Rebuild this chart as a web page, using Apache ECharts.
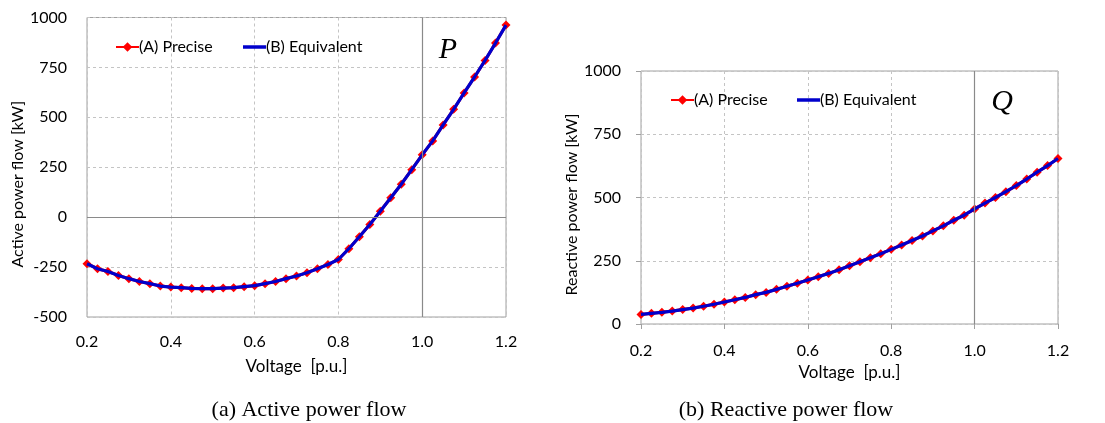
<!DOCTYPE html>
<html>
<head>
<meta charset="utf-8">
<script src="https://cdn.jsdelivr.net/npm/echarts@6/dist/echarts.min.js"></script>
<style>
html,body{margin:0;padding:0;background:#fff;}
#c{width:1105px;height:423px;}
</style>
</head>
<body>
<div id="c"></div>
<script>
// Voltage [p.u.] sample points
const voltage = [0.2,0.225,0.25,0.275,0.3,0.325,0.35,0.375,0.4,0.425,0.45,0.475,0.5,0.525,0.55,0.575,0.6,0.625,0.65,0.675,0.7,0.725,0.75,0.775,0.8,0.825,0.85,0.875,0.9,0.925,0.95,0.975,1.0,1.025,1.05,1.075,1.1,1.125,1.15,1.175,1.2];

// Active power flow [kW]
const activePrecise = [-233,-258,-272,-292,-308,-322,-333,-345,-350,-353,-357,-358,-358,-355,-353,-348,-343,-333,-322,-308,-295,-278,-258,-237,-212,-158,-98,-37,30,97,165,238,312,382,462,540,622,702,785,872,962];
const activeEquivalent = [-233,-258,-272,-292,-308,-322,-333,-345,-350,-353,-357,-358,-358,-355,-353,-348,-343,-333,-322,-308,-295,-278,-258,-237,-212,-158,-98,-37,30,97,165,238,312,382,462,540,622,702,785,872,962];

// Reactive power flow [kW]
const reactivePrecise = [38,42,46,51,57,63,70,78,87,96,105,116,125,137,149,161,174,187,200,214,230,246,262,278,295,312,330,348,368,388,410,430,455,478,500,523,547,573,600,626,654];
const reactiveEquivalent = [38,42,46,51,57,63,70,78,87,96,105,116,125,137,149,161,174,187,200,214,230,246,262,278,295,312,330,348,368,388,410,430,455,478,500,523,547,573,600,626,654];

const xTicks = ['0.2','0.4','0.6','0.8','1.0','1.2'];
const activeTicks = ['-500','-250','0','250','500','750','1000'];
const reactiveTicks = ['0','250','500','750','1000'];
const seriesNames = ['(A) Precise','(B) Equivalent'];

const pairs = (xs, ys) => xs.map((x, i) => [x, ys[i]]);

const FONT = 'Lato';
const gridLine = {show:true, lineStyle:{color:'#c4c4c4', type:[3,3], width:1}};

function xAxis(gridIndex, nameGap, labelMargin, ticks) {
  return {
    type:'value', gridIndex, min:0.2, max:1.2, interval:0.2,
    axisLine:{show:false},
    axisTick:{show:ticks, length:5, lineStyle:{color:'#a0a0a0'}},
    axisLabel:{margin:labelMargin, color:'#000', fontFamily:FONT, fontSize:16,
      formatter:v => { const s = v.toFixed(1); return xTicks.includes(s) ? s : ''; }},
    splitLine:gridLine,
    name:'Voltage  [p.u.]', nameLocation:'middle', nameGap,
    nameTextStyle:{color:'#000', fontFamily:FONT, fontSize:17}
  };
}
function yAxis(gridIndex, min, ticksArr, name, nameGap, ticks, shift) {
  return {
    type:'value', gridIndex, min, max:1000, interval:250,
    axisLine:{show:false},
    axisTick:{show:ticks, length:5, lineStyle:{color:'#a0a0a0'}},
    axisLabel:{margin:20, color:'#000', fontFamily:FONT, fontSize:16,
      formatter:v => { const s = String(v); return ticksArr.includes(s) ? s : ''; }},
    splitLine:gridLine,
    name, nameLocation:'middle', nameGap,
    nameTextStyle:{color:'#000', fontFamily:FONT, fontSize:16, padding:[0, shift, 0, 0]}
  };
}
function seriesA(idx, data, mark) {
  return {
    name:seriesNames[0], type:'line', xAxisIndex:idx, yAxisIndex:idx,
    data, symbol:'diamond', symbolSize:9, showSymbol:true,
    itemStyle:{color:'#ff0000'}, lineStyle:{color:'#ff0000', width:3},
    z:2, animation:false,
    markLine:{silent:true, symbol:'none', label:{show:false}, animation:false,
      lineStyle:{color:'#8a8a8a', type:'solid', width:1.2}, data:mark}
  };
}
function seriesB(idx, data) {
  return {
    name:seriesNames[1], type:'line', xAxisIndex:idx, yAxisIndex:idx,
    data, symbol:'none', showSymbol:false,
    itemStyle:{color:'#0000cc'}, lineStyle:{color:'#0000cc', width:3.2},
    z:3, animation:false
  };
}
function legendA(left, top) {
  return {
    data:[seriesNames[0]], left, top, itemWidth:23, itemHeight:12, itemGap:0,
    selectedMode:false,
    textStyle:{color:'#000', fontFamily:FONT, fontSize:16, padding:[0,0,0,-5]}
  };
}
function legendB(left, top) {
  return {
    data:[{name:seriesNames[1], icon:'rect'}], left, top, itemWidth:23, itemHeight:3.5, itemGap:0,
    selectedMode:false,
    textStyle:{color:'#000', fontFamily:FONT, fontSize:16, padding:[0,0,0,-5]}
  };
}

const chart = echarts.init(document.getElementById('c'), null, {renderer:'canvas'});
chart.setOption({
  animation:false,
  backgroundColor:'#fff',
  grid:[
    {left:87, right:599, top:17.5, bottom:106, show:true, borderColor:'#a0a0a0', borderWidth:1, backgroundColor:'transparent'},
    {left:641, right:47, top:71, bottom:99, show:true, borderColor:'#a0a0a0', borderWidth:1, backgroundColor:'transparent'}
  ],
  xAxis:[ xAxis(0, 41, 17, false), xAxis(1, 34, 19, true) ],
  yAxis:[
    yAxis(0, -500, activeTicks, 'Active power flow [kW]', 58, false, 34),
    yAxis(1, 0, reactiveTicks, 'Reactive power flow [kW]', 56, true, 14)
  ],
  legend:[
    legendA(110, 34),
    legendB(238, 34),
    legendA(665, 87),
    legendB(792, 87)
  ],
  series:[
    seriesA(0, pairs(voltage, activePrecise), [{xAxis:1.0}, {yAxis:0}]),
    seriesB(0, pairs(voltage, activeEquivalent)),
    seriesA(1, pairs(voltage, reactivePrecise), [{xAxis:1.0}]),
    seriesB(1, pairs(voltage, reactiveEquivalent))
  ],
  graphic:[
    {type:'text', x:448, y:50, style:{text:'P', font:'italic 30px "Liberation Serif"', fill:'#000', align:'center', verticalAlign:'middle'}},
    {type:'text', x:1002, y:102, style:{text:'Q', font:'italic 30px "Liberation Serif"', fill:'#000', align:'center', verticalAlign:'middle'}},
    {type:'text', x:309, y:410, style:{text:'(a) Active power flow', font:'22px "Liberation Serif"', fill:'#000', align:'center', verticalAlign:'middle'}},
    {type:'text', x:786, y:410, style:{text:'(b) Reactive power flow', font:'22px "Liberation Serif"', fill:'#000', align:'center', verticalAlign:'middle'}}
  ]
});
</script>
</body>
</html>
